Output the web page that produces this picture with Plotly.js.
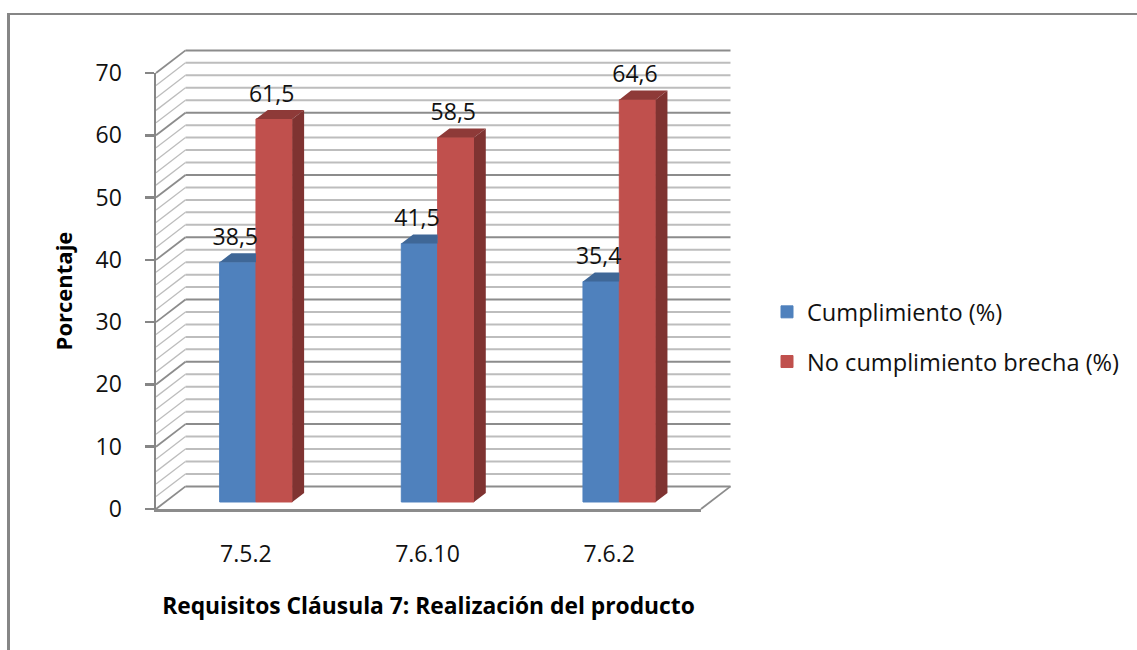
<!DOCTYPE html>
<html>
<head>
<meta charset="utf-8">
<script src="https://cdn.plot.ly/plotly-3.0.1.min.js"></script>
<style>html,body{margin:0;padding:0;background:#fff}</style>
</head>
<body>
<div id="chart" style="width:1137px;height:650px"></div>
<script>
// Requisitos de la cláusula 7, porcentaje de cumplimiento y de brecha
const categories = ['7.5.2', '7.6.10', '7.6.2'];
const cumplimiento = [38.5, 41.5, 35.4];
const brecha = [61.5, 58.5, 64.6];
const seriesNames = ['Cumplimiento (%)', 'No cumplimiento brecha (%)'];
const yTicks = [0, 10, 20, 30, 40, 50, 60, 70];
const wallLevels = [0, 2, 4, 6, 8, 10, 12, 14, 16, 18, 20, 22, 24, 26, 28, 30, 32, 34,
  36, 38, 40, 42, 44, 46, 48, 50, 52, 54, 56, 58, 60, 62, 64, 66, 68, 70];

const FONT = '"Open Sans", sans-serif';
const W = 1137, H = 650;
const M = {l: 156, r: 436, t: 73, b: 141};
const plotW = W - M.l - M.r, plotH = H - M.t - M.b;

// Perspective of the box: how far the back wall sits from the front plane, in axis units
const DEPTH_X = 29.5 / (plotW / 3);
const DEPTH_Y = 22.6 / (plotH / 70);
// Bars stand inside the box: where their front face starts and how deep they are
const BAR_FRONT = 0.31, BAR_DEPTH = 0.4, BAR_W = 0.2;

const cx = i => i;
const barBase = BAR_FRONT * DEPTH_Y;
const barShift = BAR_FRONT * DEPTH_X;
const sideX = BAR_DEPTH * DEPTH_X, sideY = BAR_DEPTH * DEPTH_Y;

// Axis units to paper units, so the walls may extend past the plot rectangle
const xp = x => (x + 0.5) / 3;
const yp = y => y / 70;
const pxX = x => (x - M.l) / plotW;
const pxY = y => (H - M.b - y) / plotH;

const shapes = [];
function line(x0, y0, x1, y1, color, width) {
  shapes.push({type: 'line', xref: 'paper', yref: 'paper', layer: 'below',
    x0, y0, x1, y1, line: {color, width}});
}

// Side wall and back wall rules
wallLevels.forEach(v => {
  const major = v % 10 === 0;
  const color = major ? '#8c8c8c' : '#bdbdbd';
  const xl = xp(-0.5), xb = xp(-0.5 + DEPTH_X), xr = xp(2.5 + DEPTH_X);
  line(xl, yp(v), xb, yp(v + DEPTH_Y), color, major ? 1.8 : 1.3);
  line(xb, yp(v + DEPTH_Y), xr, yp(v + DEPTH_Y), color, 2);
});
// Right edge of the floor
line(xp(2.5), yp(0), xp(2.5 + DEPTH_X), yp(DEPTH_Y), '#8c8c8c', 1.8);
// Outer frame of the figure
line(pxX(8.5), pxY(14), pxX(8.5), pxY(650), '#868686', 3);
line(pxX(7), pxY(14), pxX(1137), pxY(14), '#868686', 2);

// Top and side faces are closed polygons built from the same values as the bars
function faces(values, leftEdge, rightEdge, clipRight) {
  const top = {x: [], y: []}, side = {x: [], y: []};
  values.forEach((v, i) => {
    const xa = cx(i) + barShift + leftEdge, xb = cx(i) + barShift + rightEdge;
    const yt = barBase + v;
    if (clipRight) {
      top.x.push(xa, xb, xb, xa + sideX, xa, null);
      top.y.push(yt, yt, yt + sideY, yt + sideY, yt, null);
    } else {
      top.x.push(xa, xb, xb + sideX, xa + sideX, xa, null);
      top.y.push(yt, yt, yt + sideY, yt + sideY, yt, null);
    }
    side.x.push(xb, xb + sideX, xb + sideX, xb, xb, null);
    side.y.push(barBase, barBase + sideY, yt + sideY, yt, barBase, null);
  });
  return {top, side};
}
function polygon(p, color) {
  return {x: p.x, y: p.y, type: 'scatter', mode: 'lines', fill: 'toself', fillcolor: color,
    line: {width: 0, color}, hoverinfo: 'skip', showlegend: false, cliponaxis: false};
}

const blueFaces = faces(cumplimiento, -BAR_W, 0, true);
const redFaces = faces(brecha, 0, BAR_W, false);

function bars(values, name, color, group, offset) {
  return {x: categories.map((c, i) => i), y: values, base: barBase, name, type: 'bar',
    width: BAR_W, offset: offset, legendgroup: group,
    marker: {color, line: {color, width: 1}}, hoverinfo: 'y'};
}

// Value labels with a decimal comma, floating above each bar
const LABEL_GAP = 23 / (plotH / 70), LABEL_SHIFT = 2.5 / (plotW / 3);
function valueLabels(values, center) {
  return {x: values.map((v, i) => cx(i) + barShift + center - LABEL_SHIFT),
    y: values.map(v => barBase + v + LABEL_GAP),
    text: values.map(v => String(v).replace('.', ',')),
    type: 'scatter', mode: 'text', textposition: 'middle center',
    textfont: {family: FONT, size: 23, color: '#111'},
    hoverinfo: 'skip', showlegend: false, cliponaxis: false};
}

const data = [
  bars(cumplimiento, seriesNames[0], '#4F81BD', 'a', barShift - BAR_W),
  bars(brecha, seriesNames[1], '#C0504D', 'b', barShift),
  polygon(blueFaces.top, '#3F6797'),
  polygon(redFaces.top, '#8E3A38'),
  polygon(redFaces.side, '#7F3331'),
  valueLabels(cumplimiento, -BAR_W / 2),
  valueLabels(brecha, BAR_W / 2)
];

const layout = {
  width: W, height: H, autosize: false, showlegend: true,
  margin: {l: M.l, r: M.r, t: M.t, b: M.b, pad: 0},
  paper_bgcolor: '#fff', plot_bgcolor: 'rgba(0,0,0,0)',
  font: {family: FONT, size: 23, color: '#111'},
  barmode: 'overlay',
  xaxis: {range: [-0.5, 2.5], tickvals: [0, 1, 2], ticktext: categories, showgrid: false,
    zeroline: false, showline: true, linecolor: '#8c8c8c', linewidth: 2.5, ticks: '',
    ticklabelstandoff: 23, ticklabelshift: -1, tickfont: {family: FONT, size: 23, color: '#111'},
    title: {text: 'Requisitos Cláusula 7: Realización del producto', standoff: 30,
      font: {family: FONT, size: 22.8, color: '#000', weight: 'bold'}}},
  yaxis: {range: [0, 70], tickvals: yTicks, showgrid: false, zeroline: false, showline: true,
    linecolor: '#868686', linewidth: 2.5, ticks: 'outside', ticklen: 9, tickwidth: 2.5,
    tickcolor: '#868686', ticklabelstandoff: 18, ticklabelshift: -2.5,
    tickfont: {family: FONT, size: 23, color: '#111'},
    title: {text: 'Porcentaje', standoff: 17,
      font: {family: FONT, size: 22, color: '#000', weight: 'bold'}}},
  legend: {x: pxX(767), y: pxY(290), xanchor: 'left', yanchor: 'top', tracegroupgap: 16,
    bgcolor: 'rgba(0,0,0,0)', font: {family: FONT, size: 23.6, color: '#111'}},
  shapes
};

Plotly.newPlot('chart', data, layout, {displayModeBar: false, staticPlot: true});
</script>
</body>
</html>
